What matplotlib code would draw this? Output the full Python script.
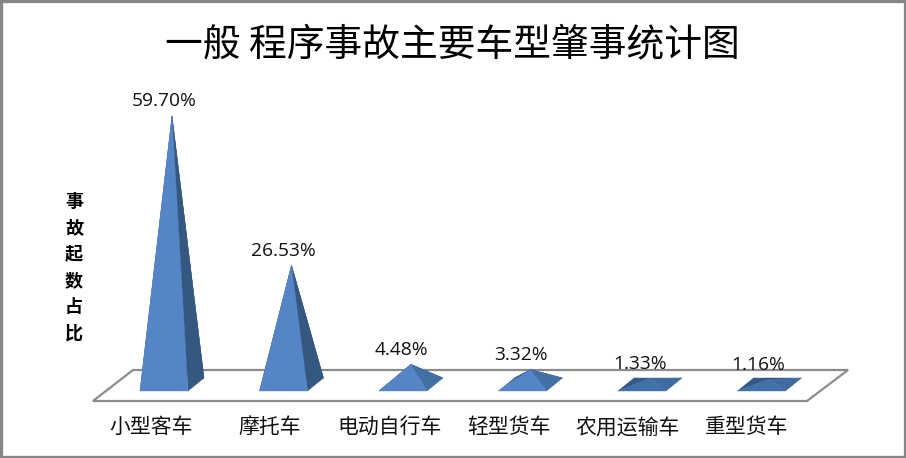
# -*- coding: utf-8 -*-
"""Pyramid column chart: share of accidents by vehicle type."""
import matplotlib
matplotlib.use('Agg')
import matplotlib.pyplot as plt
from matplotlib.patches import Rectangle

plt.rcParams['font.family'] = ['Noto Sans CJK SC', 'DejaVu Sans']

title = '一般 程序事故主要车型肇事统计图'
categories = ['小型客车', '摩托车', '电动自行车', '轻型货车', '农用运输车', '重型货车']
values = [59.70, 26.53, 4.48, 3.32, 1.33, 1.16]
value_labels = ['59.70%', '26.53%', '4.48%', '3.32%', '1.33%', '1.16%']
ylabel = '事\n故\n起\n数\n占\n比'

W, H = 906, 458
DPI = 100
PX_X = 119.5                  # pixels per category
PX_Y = 4.5                    # pixels per percent
X0, Y0 = 172, 384.5           # pixel position of first base centre
AX_L, AX_R, AX_T, AX_B = 93, 848, 60, 401


def dx(px):
    return px / PX_X


def dy(px):
    return px / PX_Y


fig = plt.figure(figsize=(W / DPI, H / DPI), dpi=DPI, facecolor='white')
ax = fig.add_axes([AX_L / W, 1 - AX_B / H, (AX_R - AX_L) / W, (AX_B - AX_T) / H])
ax.set_xlim((AX_L - X0) / PX_X, (AX_R - X0) / PX_X)
ax.set_ylim((Y0 - AX_B) / PX_Y, (Y0 - AX_T) / PX_Y)
ax.patch.set_visible(False)
for s in ax.spines.values():
    s.set_visible(False)

# floor
floor_y = (Y0 - AX_B) / PX_Y
floor_x = ax.get_xlim()[0]
ax.fill([floor_x, floor_x + dx(714), floor_x + dx(755), floor_x + dx(40)],
        [floor_y, floor_y, floor_y + dy(31), floor_y + dy(31)],
        facecolor='white', edgecolor='#8c8c8c', lw=1.6, clip_on=False, zorder=1)

# pyramids, back faces first
for i, v in enumerate(values):
    fl = (i - dx(32), -dy(6.5))
    fr = (i + dx(16), -dy(6.5))
    br = (i + dx(32), dy(6.5))
    bl = (i - dx(16), dy(6.5))
    apex = (i, v)
    if v < 2:
        c_front, c_side, c_left = '#4271a8', '#3f6ba0', '#35598a'
    elif v < 10:
        c_front, c_side, c_left = '#5585c6', '#426fa4', '#3d6496'
    else:
        c_front, c_side, c_left = '#5585c6', '#34587f', '#34587f'
    for a, b, col in [(bl, br, '#2f5180'), (fl, bl, c_left), (fr, br, c_side), (fl, fr, c_front)]:
        ax.fill([a[0], b[0], apex[0]], [a[1], b[1], apex[1]], color=col, lw=0.3, zorder=2)
    ax.text(i - dx(8 + 0.6 * i), v + dy(5.5), value_labels[i], ha='center', va='bottom',
            fontsize=13.8, color='#111111', family=['Open Sans', 'DejaVu Sans'], zorder=3)

# category labels sit left of the base centres, as in the skewed floor
ax.set_xticks([i - dx(21 + 0.3 * i) for i in range(len(categories))], categories,
              fontsize=15, color='#111111')
ax.tick_params(axis='x', length=0, pad=11)
ax.set_yticks([])

fig.text(74 / W, 1 - 267 / H, ylabel, ha='center', va='center', fontsize=13,
         fontweight='bold', linespacing=1.49, color='black')
fig.text(452 / W, 1 - 45 / H, title, ha='center', va='center', fontsize=27.2, color='black')

# chart frame
fig.add_artist(Rectangle((0, 0), 1, 1, transform=fig.transFigure, fill=False,
                         edgecolor='#868686', lw=3.8))

fig.savefig('out.png', dpi=DPI)
